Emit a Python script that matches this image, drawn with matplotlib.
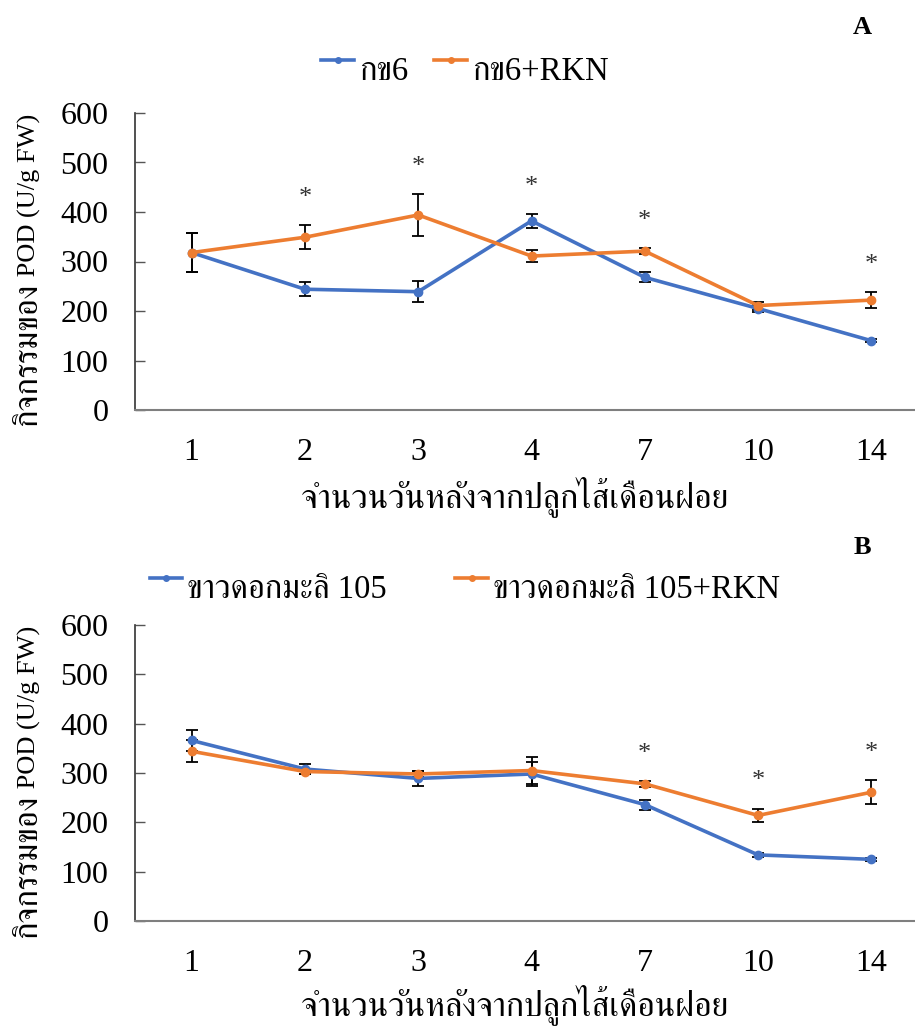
import matplotlib
matplotlib.use("Agg")
import matplotlib.pyplot as plt
from matplotlib import font_manager
from matplotlib.lines import Line2D
from matplotlib.legend_handler import HandlerLine2D

# ---------------- data ----------------
days = ['1', '2', '3', '4', '7', '10', '14']

a_labels = ['กข6', 'กข6+RKN']
a_ctrl = [318, 244, 239, 382, 268, 205, 140]
a_ctrl_err = [39, 14, 21, 14, 10, 8, 3]
a_rkn = [318, 349, 394, 311, 321, 211, 222]
a_rkn_err = [39, 24, 42, 13, 6, 8, 16]
a_sig = [False, True, True, True, True, False, True]

b_labels = ['ขาวดอกมะลิ 105', 'ขาวดอกมะลิ 105+RKN']
b_ctrl = [366, 308, 289, 298, 236, 134, 125]
b_ctrl_err = [22, 10, 16, 25, 10, 4, 3]
b_rkn = [344, 303, 298, 305, 278, 214, 261]
b_rkn_err = [22, 6, 7, 27, 6, 14, 24]
b_sig = [False, False, False, False, True, True, True]

y_ticks = [0, 100, 200, 300, 400, 500, 600]
ylabel_thai = 'กิจกรรมของ'
ylabel_latin = ' POD (U/g FW)'
xlabel = 'จำนวนวันหลังจากปลูกไส้เดือนฝอย'

# ---------------- fonts ----------------
def find_thai_font():
    try:
        from fontTools.ttLib import TTFont
    except Exception:
        return None
    cands = []
    for fe in font_manager.fontManager.ttflist:
        try:
            f = TTFont(fe.fname, fontNumber=0, lazy=True)
            cmap = f.getBestCmap()
            if cmap and 0x0E01 in cmap and 0x0E33 in cmap:
                score = 0
                n = fe.name.lower()
                if 'serif' in n or any(k in n for k in ['norasi', 'kinnari', 'sarabun', 'laksaman']):
                    score += 2
                if fe.weight in (400, 'normal', 'regular') and fe.style == 'normal':
                    score += 1
                cands.append((score, fe.name))
        except Exception:
            pass
    if not cands:
        return None
    cands.sort(key=lambda t: -t[0])
    return cands[0][1]

thai = find_thai_font()
fam = ['Liberation Serif']
if thai:
    fam.append(thai)
fam.append('DejaVu Sans')
plt.rcParams['font.family'] = fam

blue = '#4472C4'
orange = '#ED7D31'


class HandlerRaised(HandlerLine2D):
    """Legend line drawn near the top of the text, as in the original."""
    def create_artists(self, legend, orig_handle, xdescent, ydescent, width,
                       height, fontsize, trans):
        arts = super().create_artists(legend, orig_handle, xdescent, ydescent,
                                      width, height, fontsize, trans)
        for a in arts:
            a.set_ydata([v + 0.28 * fontsize for v in a.get_ydata()])
        return arts


fig = plt.figure(figsize=(9.15, 10.28), dpi=100)

W = 915.0
H = 1028.0


def make_panel(rect, ctrl, ctrl_err, rkn, rkn_err, sig, labels, panel, leg_xy,
               colspace, xlab_y, panel_xy, ylab_junction):
    ax = fig.add_axes(rect)
    x = list(range(len(days)))
    for vals, errs, col in ((ctrl, ctrl_err, blue), (rkn, rkn_err, orange)):
        ax.errorbar(x, vals, yerr=errs, color=col, lw=2.6, marker='o', ms=6,
                    ecolor='black', elinewidth=1.3, capsize=4, capthick=1.3, zorder=3)
    # significance markers
    for i, s in enumerate(sig):
        if s:
            top = max(ctrl[i] + ctrl_err[i], rkn[i] + rkn_err[i])
            ax.text(x[i], top + 55, '*', ha='center', va='center', fontsize=19,
                    color='#333333')
    ax.set_xlim(-0.5, len(days) - 0.5)
    ax.set_ylim(0, 600)
    ax.set_yticks(y_ticks)
    ax.set_xticks(x)
    ax.set_xticklabels(days)
    ax.tick_params(axis='y', direction='in', length=7, width=1, color='#555555',
                   labelsize=23, pad=19)
    ax.tick_params(axis='x', length=0, labelsize=23, pad=20)
    for sp in ('top', 'right'):
        ax.spines[sp].set_visible(False)
    ax.spines['left'].set_color('#333333')
    ax.spines['left'].set_linewidth(1.2)
    ax.spines['bottom'].set_color('#7f7f7f')
    ax.spines['bottom'].set_linewidth(1.5)
    # y label: Thai part below, Latin part above
    fig.text(36 / W, ylab_junction, ylabel_thai, rotation=90, rotation_mode='anchor',
             ha='right', va='baseline', fontsize=23.5)
    fig.text(36 / W, ylab_junction, ylabel_latin, rotation=90, rotation_mode='anchor',
             ha='left', va='baseline', fontsize=19)
    fig.text(515 / W, xlab_y, xlabel, ha='center', va='center', fontsize=24.5)
    fig.text(panel_xy[0], panel_xy[1], panel, ha='center', va='center',
             fontsize=19, fontweight='bold')
    hs = [Line2D([], [], color=blue, lw=2.6, marker='o', ms=4),
          Line2D([], [], color=orange, lw=2.6, marker='o', ms=4)]
    fig.legend(hs, labels, loc='center', bbox_to_anchor=leg_xy, ncol=2, frameon=False,
               fontsize=23.5, handlelength=1.0, handletextpad=0.15,
               columnspacing=colspace, handler_map={Line2D: HandlerRaised()})
    return ax


left = 135 / W
width = (928 - 135) / W
make_panel([left, 1 - 410 / H, width, (410 - 113) / H], a_ctrl, a_ctrl_err, a_rkn, a_rkn_err,
           a_sig, a_labels, 'A', (0.508, 1 - 72 / H), 0.8, 1 - 497 / H,
           (862 / W, 1 - 28 / H), 1 - 283 / H)
make_panel([left, 1 - 921 / H, width, (921 - 625) / H], b_ctrl, b_ctrl_err, b_rkn, b_rkn_err,
           b_sig, b_labels, 'B', (0.508, 1 - 590 / H), 2.1, 1 - 1005 / H,
           (862 / W, 1 - 548 / H), 1 - 795 / H)

fig.savefig('out.png', dpi=100)
